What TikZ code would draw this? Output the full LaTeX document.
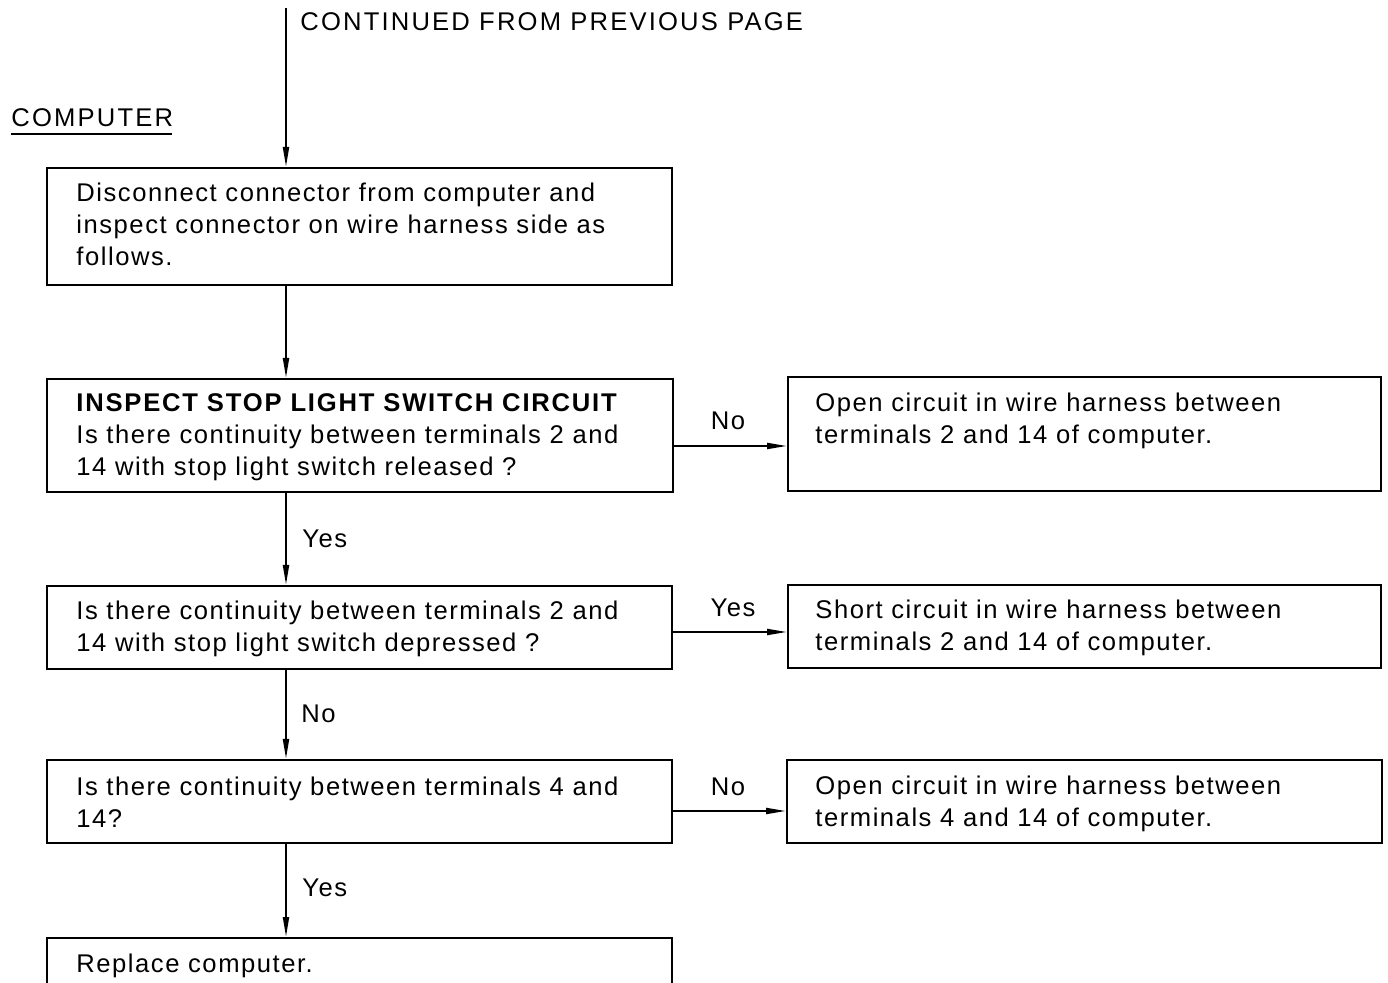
\documentclass[tikz,border=0pt]{standalone}
\usepackage{fontspec}
\setmainfont{Liberation Sans}[LetterSpace=6]
\usetikzlibrary{arrows.meta,calc}
\begin{document}
\begin{tikzpicture}[x=0.5pt,y=-0.5pt,
  box/.style={draw, line width=1pt, inner sep=0, anchor=north west},
  txt/.style={anchor=north west, inner sep=0, align=left, font=\fontsize{12.8}{16}\selectfont},
  lbl/.style={inner sep=0, font=\fontsize{12.8}{16}\selectfont},
  head/.style={inner sep=0, font=\fontsize{12.8}{16}\selectfont\addfontfeature{LetterSpace=8.5}},
  arr/.style={line width=1pt, -{Triangle[length=10pt,width=3pt]}},
  ln/.style={line width=1pt}
]
\useasboundingbox (0,0) rectangle (1388,983);
\clip (0,0) rectangle (1388,983);

% boxes
\node[box, minimum width=312.5pt, minimum height=58.5pt] (b1) at (46,167) {};
\node[box, minimum width=313pt, minimum height=56.5pt] (b2) at (46,378) {};
\node[box, minimum width=296.5pt, minimum height=57pt] (r2) at (787,376) {};
\node[box, minimum width=312.5pt, minimum height=41.5pt] (b3) at (46,585) {};
\node[box, minimum width=296.5pt, minimum height=41.5pt] (r3) at (787,584) {};
\node[box, minimum width=312.5pt, minimum height=41.5pt] (b4) at (46,759) {};
\node[box, minimum width=297.5pt, minimum height=41.5pt] (r4) at (786,759) {};
\node[box, minimum width=312.5pt, minimum height=40pt] (b5) at (46,937) {};

% texts
\node[txt] (t1) at (76,178.6) {\strut Disconnect connector from computer and\\inspect connector on wire harness side as\\follows.};
\node[txt] (t2) at (76,388.6) {\strut{\bfseries\addfontfeature{LetterSpace=7}INSPECT STOP LIGHT SWITCH CIRCUIT}\\Is there continuity between terminals 2 and\\14 with stop light switch released ?};
\node[txt] (tr2) at (815,388.6) {\strut Open circuit in wire harness between\\terminals 2 and 14 of computer.};
\node[txt] (t3) at (76,596.6) {\strut Is there continuity between terminals 2 and\\14 with stop light switch depressed ?};
\node[txt] (tr3) at (815,595.6) {\strut Short circuit in wire harness between\\terminals 2 and 14 of computer.};
\node[txt] (t4) at (76,772.6) {\strut Is there continuity between terminals 4 and\\14?};
\node[txt] (tr4) at (815,771.6) {\strut Open circuit in wire harness between\\terminals 4 and 14 of computer.};
\node[txt] (t5) at (76,949.6) {\strut Replace computer.};

% headings
\node[head, anchor=base west] (cont) at (300,31) {CONTINUED FROM PREVIOUS PAGE};
\node[head, anchor=base west] (comp) at (11,127) {COMPUTER};
\draw[ln] (11,134) -- (172,134);

% vertical connectors
\coordinate (top) at (286,8);
\draw[arr] (top) -- (top |- b1.north);
\draw[arr] (b1.south -| top) -- (b2.north -| top);
\draw[arr] (b2.south -| top) -- (b3.north -| top);
\draw[arr] (b3.south -| top) -- (b4.north -| top);
\draw[arr] (b4.south -| top) -- (b5.north -| top);

\node[lbl, anchor=west] (y1) at (302,539) {Yes};
\node[lbl, anchor=west] (n1) at (301,714) {No};
\node[lbl, anchor=west] (y2) at (302,888) {Yes};

% horizontal connectors
\draw[arr] (b2.east) ++(0,10.5) coordinate (s2) -- (s2 -| r2.west);
\draw[arr] (b3.east) ++(0,4.5) coordinate (s3) -- (s3 -| r3.west);
\draw[arr] (b4.east) ++(0,9.5) coordinate (s4) -- (s4 -| r4.west);

\node[lbl] (n2) at (728,421) {No};
\node[lbl] (y3) at (733,608) {Yes};
\node[lbl] (n3) at (728,787) {No};
\end{tikzpicture}
\end{document}
